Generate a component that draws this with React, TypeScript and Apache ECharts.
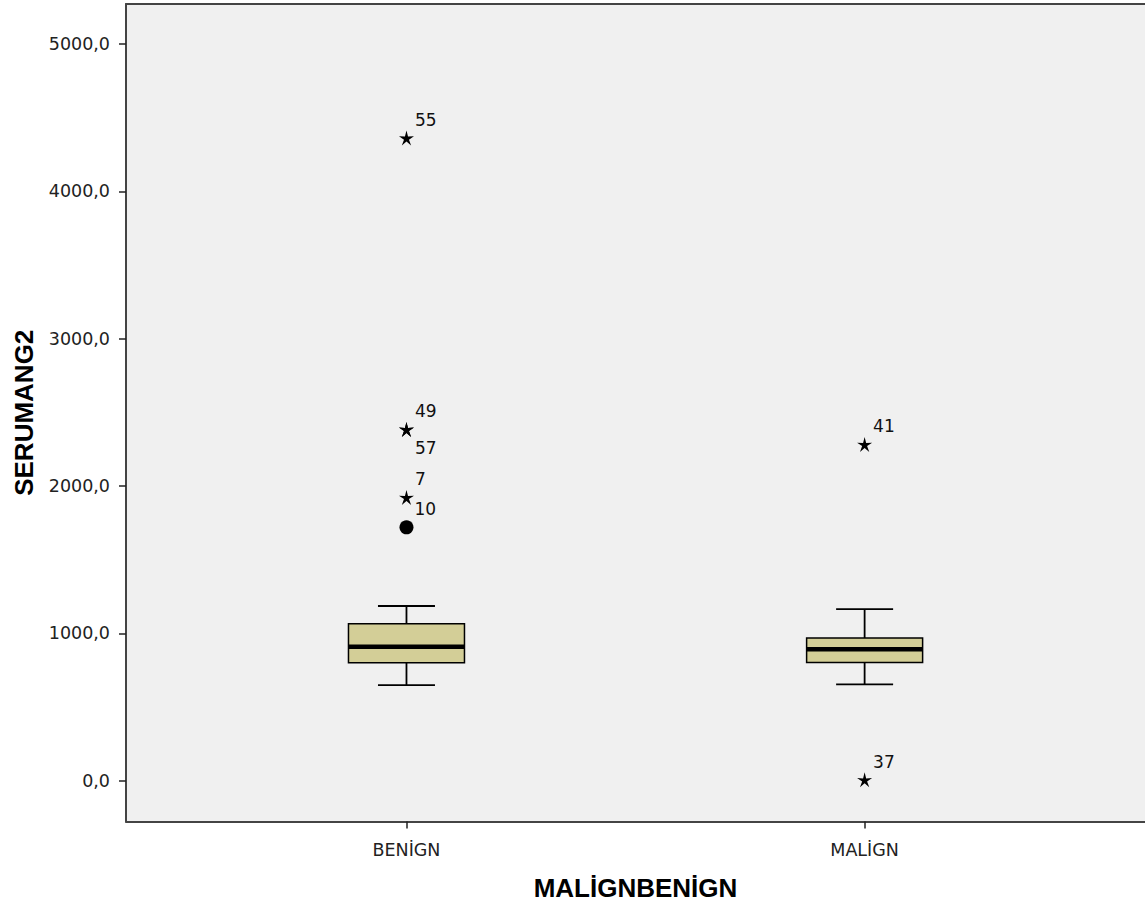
import React, { useEffect, useRef } from 'react';
import * as echarts from 'echarts';

const categories = ['BENİGN', 'MALİGN'];
const whiskerLow = [648, 653];
const q1 = [800, 802];
const median = [908, 891];
const q3 = [1065, 967];
const whiskerHigh = [1185, 1164];

const outlierCategory = [0, 0, 0, 0, 0, 1, 1];
const outlierValue = [4362, 2384, 2384, 1922, 1719, 2282, 5];
const outlierCase = ['55', '49', '57', '7', '10', '41', '37'];
const outlierExtreme = [true, true, true, true, false, true, true];
const outlierLabelBelow = [false, false, true, false, false, false, false];

const yTicks = [0, 1000, 2000, 3000, 4000, 5000];
const xPositions = [1, 2];

const STAR =
  'path://M100 0 L119.4 73.3 L195.1 69.1 L131.4 110.2 L158.8 180.9 L100 133 L41.2 180.9 L68.6 110.2 L4.9 69.1 L80.6 73.3 Z';

const tickFont = 'DejaVu Sans';
const titleFont = 'Liberation Sans';
const X_MIN = 0.3878;
const X_MAX = 2.612;

export default function App() {
  const ref = useRef<HTMLDivElement>(null);
  useEffect(() => {
    document.body.style.margin = '0';
    const chart = echarts.init(ref.current!, null, { renderer: 'svg' });
    const boxData = categories.map((c, i) => [
      xPositions[i],
      whiskerLow[i],
      q1[i],
      median[i],
      q3[i],
      whiskerHigh[i],
    ]);
    const outData = outlierValue.map((v, i) => ({
      value: [xPositions[outlierCategory[i]], v],
      symbol: outlierExtreme[i] ? STAR : 'circle',
      symbolSize: outlierExtreme[i] ? 15 : 14,
      label: {
        show: true,
        formatter: outlierCase[i],
        position: 'right',
        distance: 1,
        offset: [0, outlierLabelBelow[i] ? 19 : -18],
      },
    }));
    chart.setOption({
      animation: false,
      grid: {
        show: true,
        left: 126,
        top: 4,
        right: -2,
        bottom: 93.5,
        backgroundColor: '#f0f0f0',
        borderWidth: 0,
      },
      xAxis: [
        {
          type: 'value',
          min: X_MIN,
          max: X_MAX,
          name: 'MALİGNBENİGN',
          nameLocation: 'middle',
          nameGap: 53,
          nameTextStyle: {
            fontFamily: titleFont,
            fontWeight: 'bold',
            fontSize: 26,
            color: '#000',
            verticalAlign: 'top',
          },
          splitLine: { show: false },
          axisLine: { show: true, onZero: false, lineStyle: { color: '#444', width: 2 } },
          axisTick: {
            show: true,
            customValues: xPositions,
            length: 7,
            lineStyle: { color: '#222', width: 1.5 },
          },
          axisLabel: {
            customValues: xPositions,
            formatter: (v: number) => categories[Math.round(v) - 1] ?? '',
            fontFamily: tickFont,
            fontSize: 17.5,
            color: '#222',
            margin: 19,
          },
        },
        {
          type: 'value',
          position: 'top',
          min: X_MIN,
          max: X_MAX,
          splitLine: { show: false },
          axisLine: { show: true, onZero: false, lineStyle: { color: '#444', width: 2 } },
          axisTick: { show: false },
          axisLabel: { show: false },
        },
      ],
      yAxis: {
        type: 'value',
        min: -278,
        max: 5272,
        name: 'SERUMANG2',
        nameLocation: 'middle',
        nameGap: 89,
        nameTextStyle: {
          fontFamily: titleFont,
          fontWeight: 'bold',
          fontSize: 26,
          color: '#000',
        },
        splitLine: { show: false },
        axisLine: { show: true, onZero: false, lineStyle: { color: '#444', width: 2 } },
        axisTick: {
          show: true,
          customValues: yTicks,
          length: 7,
          lineStyle: { color: '#222', width: 1.5 },
        },
        axisLabel: {
          customValues: yTicks,
          formatter: (v: number) => v.toFixed(1).replace('.', ','),
          fontFamily: tickFont,
          fontSize: 17.5,
          color: '#222',
          margin: 16,
        },
      },
      series: [
        {
          type: 'custom',
          xAxisIndex: 0,
          data: boxData,
          encode: { x: 0, y: [1, 2, 3, 4, 5] },
          renderItem: (params: any, api: any) => {
            const x = api.value(0);
            const lo = api.coord([x, api.value(1)]);
            const b = api.coord([x, api.value(2)]);
            const m = api.coord([x, api.value(3)]);
            const t = api.coord([x, api.value(4)]);
            const hi = api.coord([x, api.value(5)]);
            const cx = lo[0];
            const half = 58;
            const cap = 28.5;
            const ls = { stroke: '#000', lineWidth: 1.8 };
            return {
              type: 'group',
              children: [
                { type: 'line', shape: { x1: cx, y1: lo[1], x2: cx, y2: b[1] }, style: ls },
                { type: 'line', shape: { x1: cx, y1: t[1], x2: cx, y2: hi[1] }, style: ls },
                { type: 'line', shape: { x1: cx - cap, y1: lo[1], x2: cx + cap, y2: lo[1] }, style: ls },
                { type: 'line', shape: { x1: cx - cap, y1: hi[1], x2: cx + cap, y2: hi[1] }, style: ls },
                {
                  type: 'rect',
                  shape: { x: cx - half, y: t[1], width: half * 2, height: b[1] - t[1] },
                  style: { fill: '#d3ce97', stroke: '#000', lineWidth: 1.5 },
                },
                {
                  type: 'line',
                  shape: { x1: cx - half, y1: m[1], x2: cx + half, y2: m[1] },
                  style: { stroke: '#000', lineWidth: 4.5 },
                },
              ],
            };
          },
        },
        {
          type: 'scatter',
          xAxisIndex: 0,
          data: outData,
          itemStyle: { color: '#000', opacity: 1 },
          label: {
            fontFamily: tickFont,
            fontSize: 17,
            color: '#111',
            align: 'left',
          },
        },
      ],
    });
    return () => chart.dispose();
  }, []);
  return <div ref={ref} style={{ width: 1145, height: 915 }} />;
}
